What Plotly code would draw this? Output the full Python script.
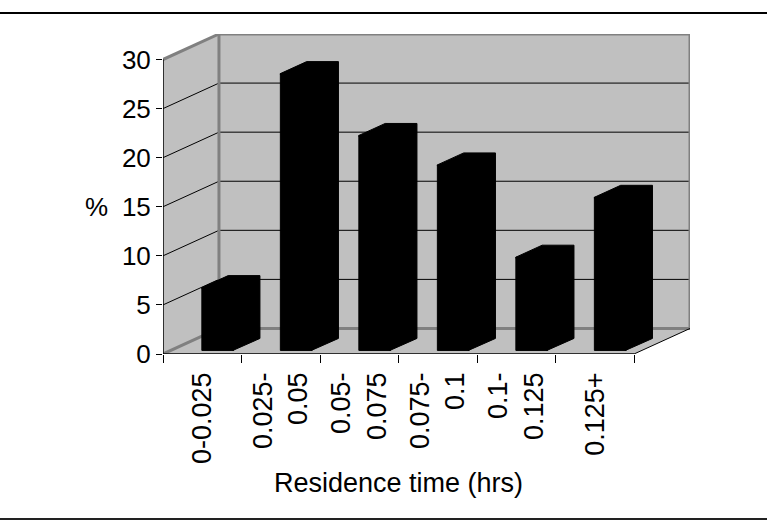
import plotly.graph_objects as go

# ---- data ----
categories = ["0-0.025", "0.025-<br>0.05", "0.05-<br>0.075", "0.075-<br>0.1", "0.1-<br>0.125", "0.125+"]
percent = [6.4, 28.2, 21.9, 18.9, 9.5, 15.6]
y_ticks = [0, 5, 10, 15, 20, 25, 30]

# ---- 3D projection settings (oblique) ----
DX = 0.713   # depth offset along x (category units)
DY = 2.6     # depth offset along y (value units)
YMAX = 30
D1, D2 = 0.14, 0.61          # bar front / back depth fraction
BL, BR = -0.105, 0.30        # bar extents relative to category centre (front plane)
WALL = "#c0c0c0"
EDGE = "#808080"
FONT = "Liberation Sans, Arial, sans-serif"

n = len(categories)
xpos = list(range(n))
x_left, x_right = -0.5, n - 0.5

fig = go.Figure()

shapes = []
# back wall
shapes.append(dict(type="rect", xref="x", yref="y", x0=x_left + DX, x1=x_right + DX, y0=DY, y1=YMAX + DY,
                   fillcolor=WALL, line=dict(width=0), layer="below"))
# left wall
shapes.append(dict(type="path", xref="x", yref="y",
                   path=f"M{x_left},0 L{x_left+DX},{DY} L{x_left+DX},{YMAX+DY} L{x_left},{YMAX} Z",
                   fillcolor=WALL, line=dict(width=0), layer="below"))
# floor
shapes.append(dict(type="path", xref="x", yref="y",
                   path=f"M{x_left},0 L{x_right},0 L{x_right+DX},{DY} L{x_left+DX},{DY} Z",
                   fillcolor=WALL, line=dict(width=0), layer="below"))
# gridlines
for t in y_ticks[1:-1]:
    shapes.append(dict(type="line", xref="x", yref="y", x0=x_left + DX, x1=x_right + DX, y0=t + DY, y1=t + DY,
                       line=dict(color="black", width=1), layer="below"))
    shapes.append(dict(type="line", xref="x", yref="y", x0=x_left, x1=x_left + DX, y0=t, y1=t + DY,
                       line=dict(color="black", width=1), layer="below"))
# wall edges (grey, thick)
for (xa, ya, xb, yb) in [
    (x_left + DX, DY, x_right + DX, DY),
    (x_left + DX, YMAX + DY, x_right + DX, YMAX + DY),
    (x_left + DX, DY, x_left + DX, YMAX + DY),
    (x_right + DX, DY, x_right + DX, YMAX + DY),
    (x_left, YMAX, x_left + DX, YMAX + DY),
    (x_left, 0, x_left + DX, DY),
]:
    shapes.append(dict(type="line", xref="x", yref="y", x0=xa, x1=xb, y0=ya, y1=yb,
                       line=dict(color=EDGE, width=3), layer="below"))
# floor right edge and front axes (black)
shapes.append(dict(type="line", xref="x", yref="y", x0=x_right, x1=x_right + DX, y0=0, y1=DY,
                   line=dict(color="black", width=1), layer="above"))
shapes.append(dict(type="line", xref="x", yref="y", x0=x_left, x1=x_right, y0=0, y1=0,
                   line=dict(color="black", width=1.5), layer="above"))
shapes.append(dict(type="line", xref="x", yref="y", x0=x_left, x1=x_left, y0=0, y1=YMAX,
                   line=dict(color="black", width=1.5), layer="above"))
# top / bottom rules
shapes.append(dict(type="line", xref="paper", yref="paper", x0=-0.4, x1=1.3, y0=1.066, y1=1.066,
                   line=dict(color="black", width=2)))
shapes.append(dict(type="line", xref="paper", yref="paper", x0=-0.4, x1=1.3, y0=-0.516, y1=-0.516,
                   line=dict(color="#222222", width=2)))

# bar front faces
fig.add_trace(go.Bar(x=xpos, y=percent, base=[D1 * DY] * n, width=BR - BL,
                     offset=BL + D1 * DX, marker=dict(color="black", line=dict(width=1, color="black")),
                     hoverinfo="skip", showlegend=False))
# bar side + top faces
for i, v in enumerate(percent):
    xr1 = i + BR + D1 * DX
    xr2 = i + BR + D2 * DX
    xl1 = i + BL + D1 * DX
    xl2 = i + BL + D2 * DX
    b1, b2 = D1 * DY, D2 * DY
    fig.add_trace(go.Scatter(
        x=[xr1 - 0.01, xr2, xr2, xl2, xl1, xl1, xr1 - 0.01, xr1 - 0.01],
        y=[b1, b2, v + b2, v + b2, v + b1, v + b1 - 0.1, v + b1 - 0.1, b1],
        mode="lines", fill="toself", fillcolor="black", line=dict(color="black", width=1),
        hoverinfo="skip", showlegend=False))

# tick marks for category boundaries on overlay axis
fig.add_trace(go.Scatter(x=[x_left], y=[0], xaxis="x2", mode="markers", marker=dict(opacity=0),
                         hoverinfo="skip", showlegend=False))

fig.update_layout(
    width=767, height=524,
    margin=dict(l=163, r=77, t=34, b=170),
    paper_bgcolor="white", plot_bgcolor="white",
    shapes=shapes,
    font=dict(family=FONT, size=26, color="black"),
    xaxis=dict(range=[x_left, x_right + DX], tickvals=xpos, ticktext=categories, ticks="",
               tickangle=-90, showgrid=False, zeroline=False, showline=False,
               tickfont=dict(family=FONT, size=27), ticklabelstandoff=12),
    xaxis2=dict(range=[x_left, x_right + DX], overlaying="x", anchor="y", side="bottom",
                tickvals=[i - 0.5 for i in range(n + 1)], ticks="outside", ticklen=8,
                tickcolor="black", tickwidth=1, showticklabels=False, showgrid=False,
                zeroline=False, showline=False),
    yaxis=dict(range=[0, YMAX + DY], tickvals=y_ticks, ticks="outside", ticklen=6,
               tickcolor="black", showgrid=False, zeroline=False, showline=False,
               tickfont=dict(family=FONT, size=26)),
    annotations=[
        dict(text="Residence time (hrs)", xref="x", yref="paper", x=(x_left + x_right) / 2, y=-0.403,
             showarrow=False, font=dict(family=FONT, size=27), xanchor="center", yanchor="middle"),
        dict(text="%", xref="paper", yref="y", x=-0.127, y=15, showarrow=False,
             font=dict(family=FONT, size=26), xanchor="center", yanchor="middle"),
    ],
)

fig.write_html("out.html")
